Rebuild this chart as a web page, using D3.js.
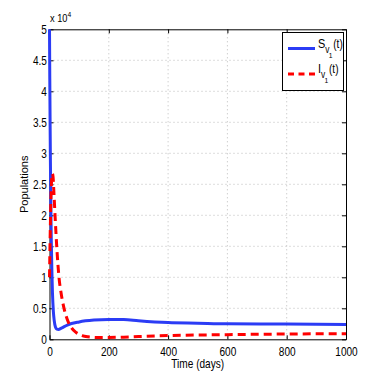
<!DOCTYPE html>
<html>
<head>
<meta charset="utf-8">
<script src="https://cdn.jsdelivr.net/npm/d3@7"></script>
<style>
  body { margin: 0; background: #fff; }
  text { font-family: "Liberation Sans", Arial, sans-serif; fill: #000; }
</style>
</head>
<body>
<div id="chart"></div>
<script>
// values in units of 10^4
var timeS = [0, 1, 2, 3, 4, 5, 6, 8, 10, 13, 16, 20, 25, 30, 40, 60, 100, 150, 200, 250, 300, 400, 500, 600, 800, 1000]
var svValues = [5, 4.2, 3.5, 2.9, 2.4, 1.95, 1.6, 1.1, 0.75, 0.45, 0.3, 0.2, 0.165, 0.16, 0.18, 0.23, 0.28, 0.31, 0.32, 0.32, 0.3, 0.27, 0.26, 0.25, 0.245, 0.24]
var timeI = [0, 2, 4, 6, 8, 10, 12, 15, 19, 25, 32, 40, 49, 60, 75, 90, 110, 130, 160, 200, 250, 300, 400, 600, 800, 1000]
var ivValues = [1.0, 1.6, 2.1, 2.45, 2.62, 2.67, 2.62, 2.35, 1.97, 1.45, 1.0, 0.72, 0.5, 0.32, 0.18, 0.11, 0.06, 0.04, 0.03, 0.03, 0.035, 0.045, 0.06, 0.075, 0.085, 0.09]
var xTicks = [0, 200, 400, 600, 800, 1000]
var yTicks = [0, 0.5, 1, 1.5, 2, 2.5, 3, 3.5, 4, 4.5, 5]

const W = 382, H = 382
const pLeft = 49.5, pRight = 346, pTop = 29.3, pBottom = 339.3
const squeeze = 0.84   // text in the original looks horizontally condensed

var svg = d3.select("#chart").append("svg")
    .attr("width", W).attr("height", H)

var x = d3.scaleLinear().domain([0, 1000]).range([pLeft, pRight])
var y = d3.scaleLinear().domain([0, 5]).range([pBottom, pTop])

// grid
var grid = svg.append("g")
grid.selectAll("line.gx").data(xTicks.slice(1, -1)).join("line")
    .attr("x1", d => x(d)).attr("x2", d => x(d))
    .attr("y1", pTop).attr("y2", pBottom)
    .attr("stroke", "#bbb").attr("stroke-width", 1).attr("stroke-dasharray", "1,3")
grid.selectAll("line.gy").data(yTicks.slice(1, -1)).join("line")
    .attr("x1", pLeft).attr("x2", pRight)
    .attr("y1", d => y(d)).attr("y2", d => y(d))
    .attr("stroke", "#bbb").attr("stroke-width", 1).attr("stroke-dasharray", "1,3")

// axes
var fmt = d => String(d)
svg.append("g").attr("transform", `translate(0, ${pBottom})`)
    .call(d3.axisBottom(x).tickValues(xTicks).tickFormat(fmt).tickSizeInner(-4).tickSizeOuter(0).tickPadding(8))
svg.append("g").attr("transform", `translate(${pLeft}, 0)`)
    .call(d3.axisLeft(y).tickValues(yTicks).tickFormat(fmt).tickSizeInner(-4).tickSizeOuter(0).tickPadding(3))
svg.append("g").attr("transform", `translate(0, ${pTop})`)
    .call(d3.axisTop(x).tickValues(xTicks).tickFormat("").tickSizeInner(-4).tickSizeOuter(0))
svg.append("g").attr("transform", `translate(${pRight}, 0)`)
    .call(d3.axisRight(y).tickValues(yTicks).tickFormat("").tickSizeInner(-4).tickSizeOuter(0))
svg.selectAll(".domain").attr("stroke", "#000").attr("stroke-width", 1)
svg.selectAll(".tick line").attr("stroke", "#000")
svg.selectAll(".tick text").attr("font-size", 12).attr("font-family", "Liberation Sans, Arial, sans-serif")
    .attr("fill", "#000").attr("transform", `scale(${squeeze},1)`)

// curves
var sData = timeS.map((t, i) => [t, svValues[i]])
var iData = timeI.map((t, i) => [t, ivValues[i]])
var line = d3.line().x(d => x(d[0])).y(d => y(d[1])).curve(d3.curveMonotoneX)

svg.append("path").datum(sData)
    .attr("d", line).attr("fill", "none")
    .attr("stroke", "#2b3cf5").attr("stroke-width", 3)
svg.append("path").datum(iData)
    .attr("d", line).attr("fill", "none")
    .attr("stroke", "#ff0000").attr("stroke-width", 3).attr("stroke-dasharray", "8,5")

// exponent label
var ex = svg.append("text").attr("transform", `translate(50, 22) scale(${squeeze},1)`).attr("font-size", 11)
ex.append("tspan").text("x 10")
ex.append("tspan").attr("dy", -5).attr("font-size", 8).text("4")

// axis labels
svg.append("text").attr("transform", `translate(${(pLeft + pRight) / 2}, 368) scale(${squeeze},1)`)
    .attr("text-anchor", "middle").attr("font-size", 12).text("Time (days)")
svg.append("text").attr("transform", `translate(28, ${(pTop + pBottom) / 2}) rotate(-90)`)
    .attr("text-anchor", "middle").attr("font-size", 11).text("Populations")

// legend
var lg = svg.append("g")
lg.append("rect").attr("x", 282.5).attr("y", 32.5).attr("width", 61).attr("height", 58)
    .attr("fill", "#fff").attr("stroke", "#000").attr("stroke-width", 1)
lg.append("line").attr("x1", 288).attr("x2", 315).attr("y1", 48.5).attr("y2", 48.5)
    .attr("stroke", "#2b3cf5").attr("stroke-width", 3)
lg.append("line").attr("x1", 288).attr("x2", 315).attr("y1", 74).attr("y2", 74)
    .attr("stroke", "#ff0000").attr("stroke-width", 3).attr("stroke-dasharray", "6,4.5")

function legendLabel(main, yy) {
    var t = lg.append("text").attr("transform", `translate(318, ${yy}) scale(${squeeze},1)`).attr("font-size", 13)
    t.append("tspan").text(main)
    t.append("tspan").attr("dy", 5).attr("font-size", 10).text("v")
    t.append("tspan").attr("dy", 5).attr("dx", -1).attr("font-size", 8).text("1")
    t.append("tspan").attr("dy", -10).attr("dx", 1).attr("font-size", 12).text("(t)")
}
legendLabel("S", 48)
legendLabel("I", 73)
</script>
</body>
</html>
